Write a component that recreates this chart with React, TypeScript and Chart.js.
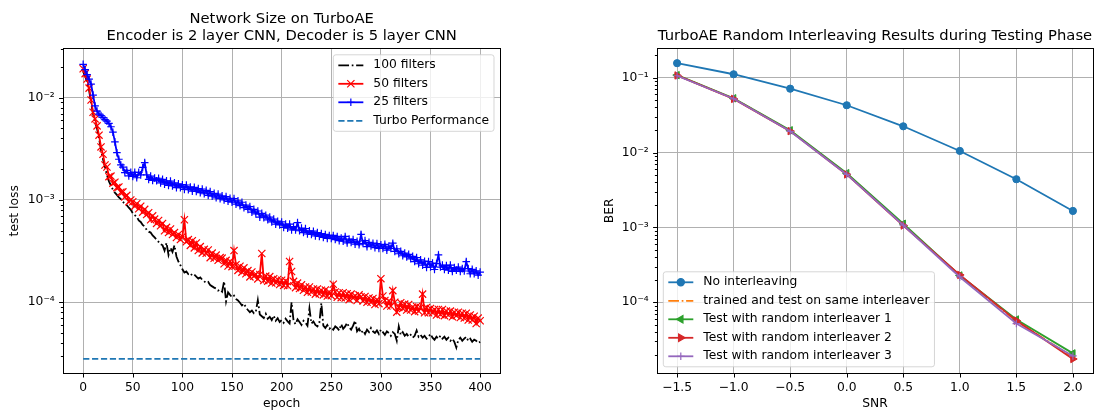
import React, { useEffect, useRef } from 'react';
import { Chart, registerables } from 'chart.js';
import { drawPoint } from 'chart.js/helpers';

Chart.register(...registerables);
Chart.defaults.font.family = '"DejaVu Sans", sans-serif';
Chart.defaults.font.size = 12.3;
Chart.defaults.color = '#000';

const FS = 12.3;
const TFS = 14.75;

// ---------------- Left chart data ----------------
const leftTitle = ['Network Size on TurboAE', 'Encoder is 2 layer CNN, Decoder is 5 layer CNN'];
const epochs = [
  0, 2, 4, 6, 8, 10, 12, 14, 16, 18, 20, 22, 24, 26, 28, 30, 32, 34, 36, 38,
  40, 42, 44, 46, 48, 50, 52, 54, 56, 58, 60, 62, 64, 66, 68, 70, 72, 74, 76, 78,
  80, 82, 84, 86, 88, 90, 92, 94, 96, 98, 100, 102, 104, 106, 108, 110, 112, 114, 116, 118,
  120, 122, 124, 126, 128, 130, 132, 134, 136, 138, 140, 142, 144, 146, 148, 150, 152, 154, 156, 158,
  160, 162, 164, 166, 168, 170, 172, 174, 176, 178, 180, 182, 184, 186, 188, 190, 192, 194, 196, 198,
  200, 202, 204, 206, 208, 210, 212, 214, 216, 218, 220, 222, 224, 226, 228, 230, 232, 234, 236, 238,
  240, 242, 244, 246, 248, 250, 252, 254, 256, 258, 260, 262, 264, 266, 268, 270, 272, 274, 276, 278,
  280, 282, 284, 286, 288, 290, 292, 294, 296, 298, 300, 302, 304, 306, 308, 310, 312, 314, 316, 318,
  320, 322, 324, 326, 328, 330, 332, 334, 336, 338, 340, 342, 344, 346, 348, 350, 352, 354, 356, 358,
  360, 362, 364, 366, 368, 370, 372, 374, 376, 378, 380, 382, 384, 386, 388, 390, 392, 394, 396, 398,
  400,
];
const filters100 = [
  0.018, 0.0162, 0.0142, 0.0118, 0.009, 0.0069, 0.0058, 0.005, 0.004, 0.0031,
  0.0025, 0.0021, 0.00175, 0.00152, 0.00138, 0.00126, 0.00118, 0.00112, 0.00106, 0.00102,
  0.00096, 0.00092, 0.00089, 0.00084, 0.0008, 0.00074, 0.00071, 0.00069, 0.00063, 0.00061,
  0.00057, 0.00055, 0.00051, 0.00049, 0.00048, 0.00045, 0.00043, 0.00041, 0.00039, 0.00037,
  0.00036, 0.00032, 0.00038, 0.00029, 0.00034, 0.00031, 0.00036, 0.00028, 0.00025, 0.00023,
  0.00021, 0.000195, 0.0002, 0.000188, 0.000192, 0.000182, 0.000186, 0.000178, 0.00017, 0.000175,
  0.000166, 0.00016, 0.000155, 0.000158, 0.000147, 0.000143, 0.000139, 0.000136, 0.00013, 0.000133,
  0.000127, 0.00016, 0.000102, 0.000125, 0.000118, 0.000112, 0.000116, 0.000108, 0.000104, 0.000099,
  0.000093, 0.000097, 0.000089, 0.000084, 0.00008, 0.000083, 0.000078, 0.000081, 0.000105, 0.000076,
  0.000073, 0.00007, 0.000077, 0.000069, 0.000072, 0.000067, 0.000074, 0.000066, 0.00007, 0.000064,
  0.000067, 0.000063, 0.000069, 0.000065, 0.000062, 0.0001, 0.000066, 0.000061, 0.000068, 0.000064,
  0.00006, 0.000066, 0.000063, 0.000059, 0.000087, 0.000062, 0.000065, 0.00006, 0.000058, 0.000063,
  0.000098, 0.000059, 0.000056, 0.00006, 0.000055, 0.000057, 0.000054, 0.000058, 0.000056, 0.000053,
  0.000061, 0.000055, 0.000058, 0.000063, 0.000057, 0.000054, 0.000059, 0.000066, 0.000052, 0.000055,
  0.00005, 0.000053, 0.000049, 0.000054, 0.000051, 0.000056, 0.000052, 0.00005, 0.000053, 0.000049,
  0.000054, 0.000051, 0.000048, 0.000052, 0.00005, 0.000047, 0.000051, 0.000049, 0.000042, 0.000058,
  0.000048, 0.000051, 0.000047, 0.000049, 0.000046, 0.000048, 0.000045, 0.000047, 0.000053, 0.000046,
  0.000048, 0.000045, 0.000047, 0.000044, 0.000046, 0.000049, 0.000045, 0.000043, 0.000046, 0.000044,
  0.000047, 0.000044, 0.000046, 0.000043, 0.000045, 0.000042, 0.000044, 0.000041, 0.000036, 0.000043,
  0.000045, 0.000042, 0.000044, 0.000046, 0.000042, 0.000044, 0.000041, 0.000043, 0.000042, 0.00004,
  0.000041,
];
const filters50 = [
  0.0192, 0.0172, 0.0152, 0.0124, 0.0095, 0.0072, 0.0062, 0.0053, 0.0043, 0.0033,
  0.0028, 0.0022, 0.0021, 0.00169, 0.00171, 0.00146, 0.00149, 0.00132, 0.00134, 0.00119,
  0.0012, 0.00107, 0.00111, 0.00096, 0.001, 0.00096, 0.00087, 0.00092, 0.00082, 0.00087,
  0.00076, 0.00081, 0.00072, 0.00075, 0.00064, 0.0007, 0.00065, 0.00059, 0.00063, 0.00056,
  0.00059, 0.0005, 0.00054, 0.00048, 0.00052, 0.00046, 0.00048, 0.00043, 0.00046, 0.00041,
  0.00044, 0.00064, 0.00039, 0.00041, 0.00036, 0.0004, 0.00034, 0.00038, 0.00032, 0.00035,
  0.000304, 0.000329, 0.000301, 0.000324, 0.000273, 0.000302, 0.000269, 0.000289, 0.000257, 0.000273,
  0.00027, 0.000238, 0.000257, 0.000226, 0.000251, 0.000223, 0.00032, 0.000233, 0.000205, 0.000225,
  0.000197, 0.000217, 0.00019, 0.000204, 0.000177, 0.000198, 0.00018, 0.000188, 0.000169, 0.000187,
  0.0003, 0.000163, 0.00018, 0.000161, 0.000178, 0.000154, 0.00017, 0.000155, 0.000167, 0.000149,
  0.000164, 0.000146, 0.000162, 0.000145, 0.00025, 0.0002, 0.00016, 0.000139, 0.000154, 0.000136,
  0.000148, 0.000131, 0.000141, 0.000125, 0.000141, 0.000126, 0.000135, 0.00012, 0.000135, 0.000121,
  0.000131, 0.000118, 0.000132, 0.000115, 0.000126, 0.000116, 0.00015, 0.000126, 0.000112, 0.000124,
  0.000111, 0.000124, 0.00011, 0.000121, 0.000106, 0.00012, 0.00011, 0.000116, 0.000104, 0.000118,
  0.000113, 0.000103, 0.000114, 0.0001, 0.00011, 0.0001, 0.000109, 0.000095, 0.000106, 0.000097,
  0.00017, 0.000115, 0.000104, 0.000092, 0.000103, 0.000092, 0.00013, 0.0001, 0.00008, 0.000089,
  0.000099, 0.000087, 0.000096, 0.000084, 0.000095, 0.000084, 0.00009, 0.000081, 0.000091, 0.000082,
  0.000089, 0.00012, 0.000079, 0.000089, 0.000079, 0.000087, 0.000079, 0.000085, 0.000075, 0.000085,
  0.000076, 0.000085, 0.000074, 0.000082, 0.000075, 0.000082, 0.000072, 0.00008, 0.000074, 0.00008,
  0.000071, 0.000078, 0.00007, 0.000078, 0.000067, 0.000075, 0.000067, 0.000073, 0.000062, 0.00007,
  0.000066,
];
const filters25 = [
  0.0212, 0.0188, 0.0168, 0.0152, 0.0136, 0.0106, 0.0083, 0.0074, 0.0069, 0.0067,
  0.0064, 0.0061, 0.0059, 0.0056, 0.0052, 0.0046, 0.0037, 0.0029, 0.0025, 0.0022,
  0.00209, 0.00185, 0.00195, 0.00172, 0.00186, 0.0017, 0.00186, 0.00165, 0.00186, 0.00176,
  0.00208, 0.00232, 0.00176, 0.00159, 0.00171, 0.00155, 0.00164, 0.00154, 0.00163, 0.00147,
  0.00159, 0.00143, 0.00154, 0.00139, 0.00153, 0.00137, 0.00147, 0.00132, 0.00144, 0.00132,
  0.00141, 0.00127, 0.0014, 0.00126, 0.00134, 0.00122, 0.00133, 0.00121, 0.00129, 0.00118,
  0.00128, 0.00115, 0.00124, 0.00111, 0.00121, 0.00109, 0.00116, 0.00105, 0.00114, 0.00103,
  0.0011, 0.001, 0.00108, 0.00097, 0.00104, 0.00095, 0.00103, 0.00091, 0.00098, 0.00088,
  0.00095, 0.00084, 0.00089, 0.00081, 0.00086, 0.00076, 0.00081, 0.00073, 0.00078, 0.00068,
  0.00074, 0.00067, 0.00071, 0.00064, 0.00068, 0.00061, 0.00065, 0.00058, 0.00062, 0.00057,
  0.00061, 0.00054, 0.00058, 0.00053, 0.00058, 0.00051, 0.00055, 0.00051, 0.0006, 0.0005,
  0.00053, 0.00048, 0.000525, 0.000465, 0.0005, 0.00046, 0.000495, 0.000445, 0.00048, 0.00044,
  0.00047, 0.00043, 0.00046, 0.00042, 0.00045, 0.00042, 0.00045, 0.00041, 0.00044, 0.0004,
  0.000425, 0.000395, 0.00044, 0.00038, 0.000415, 0.000385, 0.00041, 0.00037, 0.000395, 0.000365,
  0.00046, 0.000375, 0.0004, 0.00035, 0.000385, 0.000355, 0.000378, 0.000342, 0.000374, 0.000336,
  0.000364, 0.000336, 0.000368, 0.000323, 0.000354, 0.000336, 0.000378, 0.000314, 0.000333, 0.000298,
  0.000315, 0.000285, 0.000302, 0.000278, 0.000294, 0.000266, 0.000281, 0.00025, 0.000273, 0.000238,
  0.00026, 0.00023, 0.000252, 0.000219, 0.00025, 0.000221, 0.000242, 0.000209, 0.000239, 0.00029,
  0.000221, 0.000231, 0.000209, 0.000229, 0.000206, 0.000231, 0.0002, 0.000218, 0.000206, 0.000221,
  0.0002, 0.000213, 0.000202, 0.00025, 0.000213, 0.00019, 0.00021, 0.00019, 0.000203, 0.000184,
  0.000197,
];
const turboEpochs = [0, 400];
const turboPerformance = [2.8e-5, 2.8e-5];

const leftXTicks = [0, 50, 100, 150, 200, 250, 300, 350, 400];
const leftXLabels = ['0', '50', '100', '150', '200', '250', '300', '350', '400'];
const leftYMajor = [1e-4, 1e-3, 1e-2];
const leftYLabels = ['10\u207B\u2074', '10\u207B\u00B3', '10\u207B\u00B2'];

// ---------------- Right chart data ----------------
const rightTitle = 'TurboAE Random Interleaving Results during Testing Phase';
const snr = [-1.5, -1.0, -0.5, 0.0, 0.5, 1.0, 1.5, 2.0];
const noInterleaving = [0.156, 0.111, 0.0713, 0.0428, 0.0224, 0.0105, 0.0044, 0.00166];
const sameInterleaver = [0.107, 0.0525, 0.0195, 0.0052, 0.00108, 0.000226, 5.6e-5, 1.85e-5];
const randomInterleaver1 = [0.108, 0.053, 0.0198, 0.0053, 0.00112, 0.000228, 5.9e-5, 2.08e-5];
const randomInterleaver2 = [0.107, 0.052, 0.0193, 0.0051, 0.00106, 0.000232, 5.7e-5, 1.75e-5];
const randomInterleaver3 = [0.106, 0.0522, 0.0192, 0.0051, 0.00107, 0.000218, 5.2e-5, 1.92e-5];

const rightXTicks = [-1.5, -1.0, -0.5, 0.0, 0.5, 1.0, 1.5, 2.0];
const rightXLabels = ['\u22121.5', '\u22121.0', '\u22120.5', '0.0', '0.5', '1.0', '1.5', '2.0'];
const rightYMajor = [1e-4, 1e-3, 1e-2, 1e-1];
const rightYLabels = ['10\u207B\u2074', '10\u207B\u00B3', '10\u207B\u00B2', '10\u207B\u00B9'];

// ---------------- helpers ----------------
const DASHDOT = [10.7, 2.7, 1.7, 2.7];
const DASHED = [6.2, 2.7];
const LW = 1.8;

function logTicks(majors: number[], min: number, max: number) {
  const out: { value: number; major: boolean }[] = [];
  const decades = [majors[0] / 10, ...majors];
  decades.forEach((d) => {
    for (let m = 1; m <= 9; m++) {
      const v = d * m;
      if (v >= min && v <= max) out.push({ value: v, major: m === 1 });
    }
  });
  return out;
}

function pts(xs: number[], ys: number[]) {
  return xs.map((x, i) => ({ x, y: ys[i] }));
}

const decorPlugin = {
  id: 'mplDecor',
  afterDraw(chart: any, _args: any, opts: any) {
    const { ctx, chartArea: a } = chart;
    const xs = chart.scales.x;
    const ys = chart.scales.y;
    ctx.save();
    ctx.strokeStyle = '#000';
    ctx.lineWidth = 1;
    ctx.setLineDash([]);
    ctx.beginPath();
    xs.ticks.forEach((t: any) => {
      const p = Math.round(xs.getPixelForValue(t.value)) + 0.5;
      const len = t.major === false ? 2.4 : 4.2;
      ctx.moveTo(p, a.bottom);
      ctx.lineTo(p, a.bottom + len);
    });
    ys.ticks.forEach((t: any) => {
      const p = Math.round(ys.getPixelForValue(t.value)) + 0.5;
      const len = t.major === false ? 2.4 : 4.2;
      ctx.moveTo(a.left, p);
      ctx.lineTo(a.left - len, p);
    });
    ctx.stroke();
    const l = Math.round(a.left) + 0.5;
    const t = Math.round(a.top) + 0.5;
    const r = Math.round(a.right) + 0.5;
    const b = Math.round(a.bottom) + 0.5;
    ctx.strokeRect(l, t, r - l, b - t);

    const items = opts.items || [];
    ctx.font = FS + 'px "DejaVu Sans", sans-serif';
    const padL = 5, handle = 25, gap = 10, padR = 5;
    let maxW = 0;
    items.forEach((it: any) => { maxW = Math.max(maxW, ctx.measureText(it.label).width); });
    const boxW = padL + handle + gap + maxW + padR;
    const boxH = 21 + (items.length - 1) * 18.5;
    let x0: number, y0: number;
    if (opts.corner === 'tr') {
      x0 = a.right - 6 - boxW;
      y0 = a.top + 6.5;
    } else {
      x0 = a.left + 6;
      y0 = a.bottom - 6.5 - boxH;
    }
    ctx.beginPath();
    const rr = 2.5;
    ctx.moveTo(x0 + rr, y0);
    ctx.arcTo(x0 + boxW, y0, x0 + boxW, y0 + boxH, rr);
    ctx.arcTo(x0 + boxW, y0 + boxH, x0, y0 + boxH, rr);
    ctx.arcTo(x0, y0 + boxH, x0, y0, rr);
    ctx.arcTo(x0, y0, x0 + boxW, y0, rr);
    ctx.closePath();
    ctx.fillStyle = 'rgba(255,255,255,0.8)';
    ctx.fill();
    ctx.strokeStyle = 'rgba(204,204,204,0.8)';
    ctx.lineWidth = 1;
    ctx.stroke();

    items.forEach((it: any, i: number) => {
      const cy = y0 + 10.5 + i * 18.5;
      const hx = x0 + padL;
      ctx.beginPath();
      ctx.strokeStyle = it.color;
      ctx.lineWidth = LW;
      ctx.setLineDash(it.dash || []);
      ctx.moveTo(hx, cy);
      ctx.lineTo(hx + handle, cy);
      ctx.stroke();
      ctx.setLineDash([]);
      if (it.pointStyle) {
        ctx.fillStyle = it.color;
        ctx.strokeStyle = it.color;
        ctx.lineWidth = 1.2;
        drawPoint(ctx, { pointStyle: it.pointStyle, radius: it.radius, rotation: it.rotation || 0, borderWidth: 1.2 } as any, hx + handle / 2, cy);
      }
      ctx.fillStyle = '#000';
      ctx.textAlign = 'left';
      ctx.textBaseline = 'middle';
      ctx.fillText(it.label, hx + handle + gap, cy);
    });
    ctx.restore();
  },
};

const gridColor = (c: any) => (c.tick && c.tick.major === false ? 'rgba(0,0,0,0)' : '#b0b0b0');

function baseScales(opts: {
  xMin: number; xMax: number; xTicks: number[]; xLabels: string[]; xTitle: string;
  yMin: number; yMax: number; yMajor: number[]; yLabels: string[]; yTitle: string; yWidth: number; yTitlePad: number;
}) {
  return {
    x: {
      type: 'linear',
      min: opts.xMin,
      max: opts.xMax,
      afterBuildTicks: (s: any) => { s.ticks = opts.xTicks.map((v) => ({ value: v, major: true })); },
      afterFit: (s: any) => { s.height = 411 - 373.3; },
      ticks: {
        autoSkip: false, maxRotation: 0, padding: 6.8, color: '#000', font: { size: FS },
        callback: (v: number) => { const i = opts.xTicks.findIndex((t) => Math.abs(t - v) < 1e-9); return i >= 0 ? opts.xLabels[i] : ''; },
      },
      grid: { color: '#b0b0b0', lineWidth: 1, drawTicks: false },
      border: { display: false },
      title: { display: true, text: opts.xTitle, color: '#000', font: { size: FS }, padding: { top: 0, bottom: 0 } },
    },
    y: {
      type: 'logarithmic',
      min: opts.yMin,
      max: opts.yMax,
      afterBuildTicks: (s: any) => { s.ticks = logTicks(opts.yMajor, opts.yMin, opts.yMax); },
      afterFit: (s: any) => { s.width = opts.yWidth; },
      ticks: {
        autoSkip: false, padding: 8.5, color: '#000', font: { size: FS },
        callback: (v: number) => {
          const i = opts.yMajor.findIndex((t) => Math.abs(t - v) / t < 1e-6);
          return i >= 0 ? opts.yLabels[i] : '';
        },
      },
      grid: { color: gridColor, lineWidth: 1, drawTicks: false },
      border: { display: false },
      title: { display: true, text: opts.yTitle, color: '#000', font: { size: FS }, padding: { top: opts.yTitlePad, bottom: 0 } },
    },
  };
}

function leftConfig(): any {
  const datasets = [
    { label: '100 filters', data: pts(epochs, filters100), borderColor: '#000000', borderWidth: LW, borderDash: DASHDOT, pointRadius: 0 },
    { label: '50 filters', data: pts(epochs, filters50), borderColor: '#ff0000', borderWidth: LW, pointStyle: 'crossRot', pointRadius: 5.1, pointBorderColor: '#ff0000', pointBackgroundColor: '#ff0000', pointBorderWidth: 1.2 },
    { label: '25 filters', data: pts(epochs, filters25), borderColor: '#0000ff', borderWidth: LW, pointStyle: 'cross', pointRadius: 3.8, pointBorderColor: '#0000ff', pointBackgroundColor: '#0000ff', pointBorderWidth: 1.2 },
    { label: 'Turbo Performance', data: pts(turboEpochs, turboPerformance), borderColor: '#1f77b4', borderWidth: LW, borderDash: DASHED, pointRadius: 0 },
  ].map((d, i, arr) => ({ ...d, order: arr.length - i, fill: false, tension: 0 }));
  return {
    type: 'line',
    data: { datasets },
    options: {
      animation: false, responsive: false, events: [],
      layout: { padding: { left: 0, top: 0, right: 49, bottom: 0 } },
      plugins: {
        legend: { display: false }, tooltip: { enabled: false },
        title: { display: true, text: leftTitle, color: '#000', fullSize: false, font: { size: TFS, weight: 'normal', lineHeight: 17 / TFS }, padding: { top: 10.5, bottom: 3.8 } },
        mplDecor: {
          corner: 'tr',
          items: [
            { label: '100 filters', color: '#000000', dash: DASHDOT },
            { label: '50 filters', color: '#ff0000', pointStyle: 'crossRot', radius: 5.1 },
            { label: '25 filters', color: '#0000ff', pointStyle: 'cross', radius: 3.8 },
            { label: 'Turbo Performance', color: '#1f77b4', dash: DASHED },
          ],
        },
      },
      scales: baseScales({
        xMin: -20, xMax: 420, xTicks: leftXTicks, xLabels: leftXLabels, xTitle: 'epoch',
        yMin: 2.02e-5, yMax: 0.0304, yMajor: leftYMajor, yLabels: leftYLabels, yTitle: 'test loss', yWidth: 63.3, yTitlePad: 7.1,
      }),
    },
    plugins: [decorPlugin],
  };
}

function rightConfig(): any {
  const datasets = [
    { label: 'No interleaving', data: pts(snr, noInterleaving), borderColor: '#1f77b4', borderWidth: LW, pointStyle: 'circle', pointRadius: 3.6, pointBackgroundColor: '#1f77b4', pointBorderColor: '#1f77b4', pointBorderWidth: 1 },
    { label: 'trained and test on same interleaver', data: pts(snr, sameInterleaver), borderColor: '#ff7f0e', borderWidth: LW, borderDash: DASHDOT, pointRadius: 0 },
    { label: 'Test with random interleaver 1', data: pts(snr, randomInterleaver1), borderColor: '#2ca02c', borderWidth: LW, pointStyle: 'triangle', pointRotation: 270, pointRadius: 4.3, pointBackgroundColor: '#2ca02c', pointBorderColor: '#2ca02c', pointBorderWidth: 1 },
    { label: 'Test with random interleaver 2', data: pts(snr, randomInterleaver2), borderColor: '#d62728', borderWidth: LW, pointStyle: 'triangle', pointRotation: 90, pointRadius: 4.3, pointBackgroundColor: '#d62728', pointBorderColor: '#d62728', pointBorderWidth: 1 },
    { label: 'Test with random interleaver 3', data: pts(snr, randomInterleaver3), borderColor: '#9467bd', borderWidth: LW, pointStyle: 'cross', pointRadius: 3.8, pointBackgroundColor: '#9467bd', pointBorderColor: '#9467bd', pointBorderWidth: 1.2 },
  ].map((d, i, arr) => ({ ...d, order: arr.length - i, fill: false, tension: 0 }));
  return {
    type: 'line',
    data: { datasets },
    options: {
      animation: false, responsive: false, events: [],
      layout: { padding: { left: 0, top: 0, right: 4.7, bottom: 0 } },
      plugins: {
        legend: { display: false }, tooltip: { enabled: false },
        title: { display: true, text: rightTitle, color: '#000', fullSize: false, font: { size: TFS, weight: 'normal', lineHeight: 17 / TFS }, padding: { top: 27.5, bottom: 3.8 } },
        mplDecor: {
          corner: 'bl',
          items: [
            { label: 'No interleaving', color: '#1f77b4', pointStyle: 'circle', radius: 3.6 },
            { label: 'trained and test on same interleaver', color: '#ff7f0e', dash: DASHDOT },
            { label: 'Test with random interleaver 1', color: '#2ca02c', pointStyle: 'triangle', radius: 4.3, rotation: 270 },
            { label: 'Test with random interleaver 2', color: '#d62728', pointStyle: 'triangle', radius: 4.3, rotation: 90 },
            { label: 'Test with random interleaver 3', color: '#9467bd', pointStyle: 'cross', radius: 3.8 },
          ],
        },
      },
      scales: baseScales({
        xMin: -1.675, xMax: 2.175, xTicks: rightXTicks, xLabels: rightXLabels, xTitle: 'SNR',
        yMin: 1.127e-5, yMax: 0.2465, yMajor: rightYMajor, yLabels: rightYLabels, yTitle: 'BER', yWidth: 108.3, yTitlePad: 53.1,
      }),
    },
    plugins: [decorPlugin],
  };
}

export default function App() {
  const leftRef = useRef<HTMLCanvasElement>(null);
  const rightRef = useRef<HTMLCanvasElement>(null);
  useEffect(() => {
    const c1 = new Chart(leftRef.current as HTMLCanvasElement, leftConfig());
    const c2 = new Chart(rightRef.current as HTMLCanvasElement, rightConfig());
    return () => { c1.destroy(); c2.destroy(); };
  }, []);
  return (
    <div style={{ position: 'absolute', left: 0, top: 0, width: 1098, height: 411, background: '#fff', overflow: 'hidden' }}>
      <canvas ref={leftRef} width={549} height={411} style={{ position: 'absolute', left: 0, top: 0, width: 549, height: 411 }} />
      <canvas ref={rightRef} width={549} height={411} style={{ position: 'absolute', left: 549, top: 0, width: 549, height: 411 }} />
    </div>
  );
}
